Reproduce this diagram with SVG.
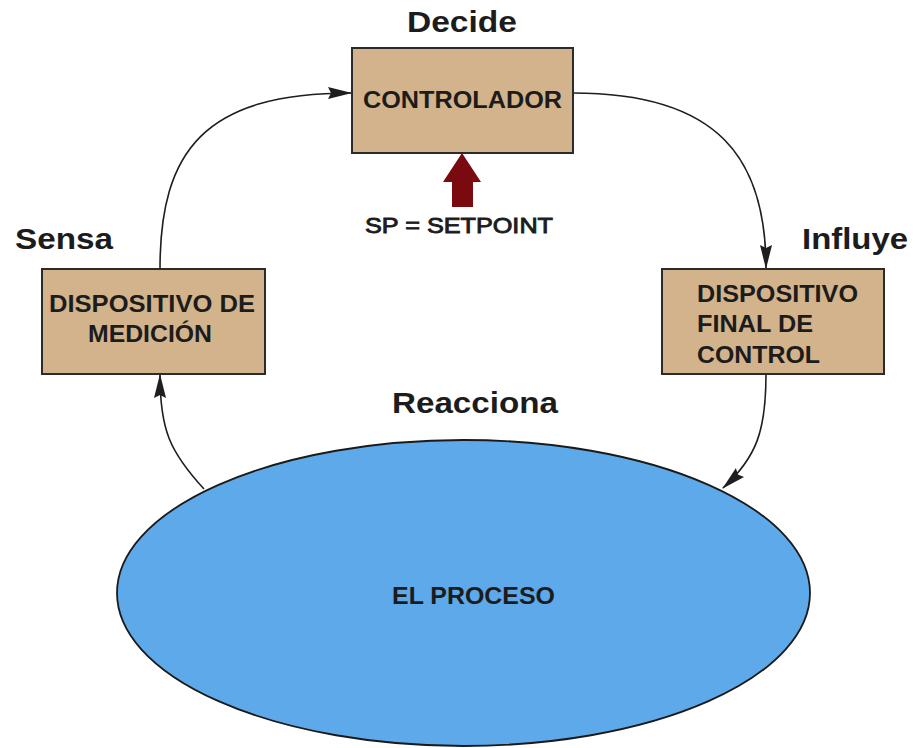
<svg xmlns="http://www.w3.org/2000/svg" width="915" height="748" viewBox="0 0 915 748">
<style>
  .box { fill: #D3B38B; stroke: #2b2b2b; stroke-width: 2; }
  .proc { fill: #5DA9EA; stroke: #1a1a1a; stroke-width: 1.8; }
  .lbl { font-family: "Liberation Sans", Arial, sans-serif; font-weight: bold; fill: #1c1c1c; }
  .big { font-size: 30px; }
  .in { font-size: 23px; }
  .sp { font-family: "Liberation Sans", Arial, sans-serif; font-size: 22px; fill: #1c1c1c; stroke: #1c1c1c; stroke-width: 0.9; }
  .conn { fill: none; stroke: #1e1e1e; stroke-width: 1.6; marker-end: url(#arr); }
</style>
<defs>
  <marker id="arr" markerUnits="userSpaceOnUse" markerWidth="24" markerHeight="14" viewBox="0 0 24 14" refX="23" refY="7" orient="auto">
    <path d="M0,1 L24,7 L0,13 L3,7 Z" fill="#1e1e1e"/>
  </marker>
</defs>
<rect width="915" height="748" fill="#ffffff"/>

<g id="connectors">
  <path class="conn" d="M160,269 C160,150 205,93 351,93"/>
  <path class="conn" d="M573,93 C720,93 766,160 766,268"/>
  <path class="conn" d="M766,374 C766,430 757,457 723,488"/>
  <path class="conn" d="M204,489 C170,452 160,430 160,375"/>
</g>

<g id="labels">
  <text class="lbl big" x="407" y="32" textLength="110" lengthAdjust="spacingAndGlyphs">Decide</text>
  <text class="lbl big" x="15" y="249" textLength="98" lengthAdjust="spacingAndGlyphs">Sensa</text>
  <text class="lbl big" x="802" y="249" textLength="106" lengthAdjust="spacingAndGlyphs">Influye</text>
  <text class="lbl big" x="392" y="413" textLength="166" lengthAdjust="spacingAndGlyphs">Reacciona</text>
</g>

<g id="controlador">
  <rect class="box" x="352" y="48" width="221" height="105"/>
  <text class="lbl in" x="363" y="108" textLength="199" lengthAdjust="spacingAndGlyphs">CONTROLADOR</text>
</g>

<g id="setpoint">
  <path d="M462,153 L481,182 L473,182 L473,207 L452,207 L452,182 L443,182 Z" fill="#7A0A10"/>
  <text class="sp" x="365" y="233" textLength="188" lengthAdjust="spacingAndGlyphs">SP = SETPOINT</text>
</g>

<g id="medicion">
  <rect class="box" x="42" y="269" width="223" height="105"/>
  <text class="lbl in" x="49" y="312" textLength="206" lengthAdjust="spacingAndGlyphs">DISPOSITIVO DE</text>
  <text class="lbl in" x="88" y="342" textLength="124" lengthAdjust="spacingAndGlyphs">MEDICIÓN</text>
</g>

<g id="final-control">
  <rect class="box" x="662" y="269" width="222" height="105"/>
  <text class="lbl in" x="697" y="302" textLength="161" lengthAdjust="spacingAndGlyphs">DISPOSITIVO</text>
  <text class="lbl in" x="697" y="332" textLength="116" lengthAdjust="spacingAndGlyphs">FINAL DE</text>
  <text class="lbl in" x="697" y="363" textLength="123" lengthAdjust="spacingAndGlyphs">CONTROL</text>
</g>

<g id="proceso">
  <ellipse class="proc" cx="463.5" cy="593" rx="346.5" ry="153"/>
  <text class="lbl in" x="392" y="604" textLength="163" lengthAdjust="spacingAndGlyphs">EL PROCESO</text>
</g>
</svg>
